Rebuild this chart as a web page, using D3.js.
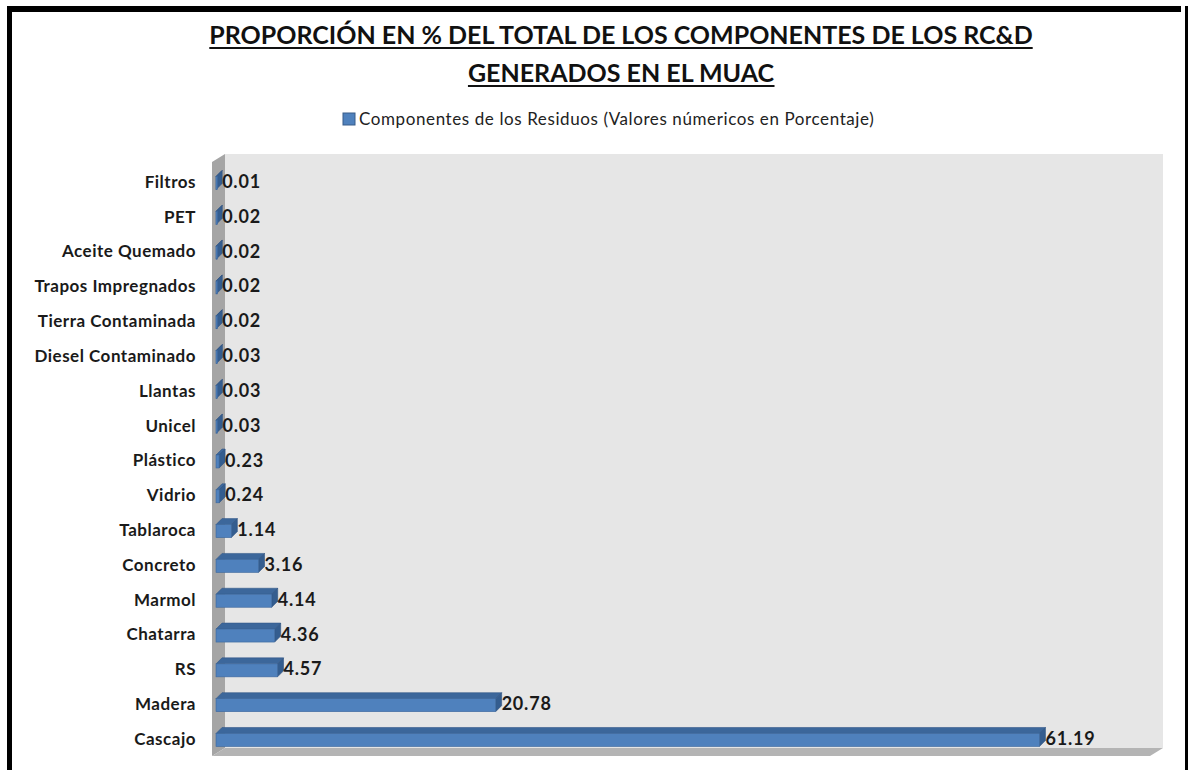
<!DOCTYPE html>
<html>
<head>
<meta charset="utf-8">
<script src="https://cdn.jsdelivr.net/npm/d3@7"></script>
<style>
  body { margin: 0; background: #fff; }
  svg { display: block; font-family: Lato, "Open Sans", sans-serif; }
</style>
</head>
<body>
<div id="chart"></div>
<script>
var svgWidth = 1188;
var svgHeight = 770;

var titleLines = ["PROPORCIÓN EN % DEL TOTAL DE LOS COMPONENTES DE LOS RC&D", "GENERADOS EN EL MUAC"];
var seriesName = "Componentes de los Residuos (Valores númericos en Porcentaje)";

var categories = ["Filtros", "PET", "Aceite Quemado", "Trapos Impregnados", "Tierra Contaminada",
  "Diesel Contaminado", "Llantas", "Unicel", "Plástico", "Vidrio", "Tablaroca", "Concreto",
  "Marmol", "Chatarra", "RS", "Madera", "Cascajo"];
var values = [0.01, 0.02, 0.02, 0.02, 0.02, 0.03, 0.03, 0.03, 0.23, 0.24, 1.14, 3.16, 4.14, 4.36, 4.57, 20.78, 61.19];
var labels = ["0.01", "0.02", "0.02", "0.02", "0.02", "0.03", "0.03", "0.03", "0.23", "0.24", "1.14", "3.16", "4.14", "4.36", "4.57", "20.78", "61.19"];

var data = categories.map(function(c, i) { return { name: c, value: values[i], label: labels[i] }; });

// 3d wall geometry
var wall = { left: 225, right: 1163, top: 154, bottom: 748 };
var wallDx = 13, wallDy = 8;
var barDepth = 6;
var barH = 13;

var svg = d3.select("#chart")
  .append("svg")
  .attr("width", svgWidth)
  .attr("height", svgHeight);

// frame
svg.append("rect").attr("x", 0).attr("y", 0).attr("width", svgWidth).attr("height", svgHeight).attr("fill", "#fff");
svg.append("rect").attr("x", 7).attr("y", 6).attr("width", 5).attr("height", svgHeight - 6).attr("fill", "#000");
svg.append("rect").attr("x", 7).attr("y", 6).attr("width", 1181 - 7).attr("height", 6).attr("fill", "#000");
svg.append("rect").attr("x", 1185).attr("y", 6).attr("width", 3).attr("height", svgHeight - 6).attr("fill", "#000");

// title
titleLines.forEach(function(t, i) {
  var by = 44 + i * 38;
  var tx = svg.append("text")
    .attr("x", 621)
    .attr("y", by)
    .attr("text-anchor", "middle")
    .attr("font-size", 25)
    .attr("font-weight", 700)
    .attr("fill", "#111")
    .text(t);
  var bb = tx.node().getBBox();
  svg.append("rect")
    .attr("x", bb.x).attr("y", by + 3)
    .attr("width", bb.width).attr("height", 2)
    .attr("fill", "#111");
});

// legend
svg.append("rect").attr("x", 343).attr("y", 113).attr("width", 12).attr("height", 12)
  .attr("fill", "#4f81bd").attr("stroke", "#385d8a").attr("stroke-width", 1);
svg.append("text").attr("x", 359).attr("y", 125)
  .attr("font-size", 17).attr("fill", "#222")
  .attr("letter-spacing", 0.6)
  .text(seriesName);

// walls
svg.append("rect")
  .attr("x", wall.left).attr("y", wall.top)
  .attr("width", wall.right - wall.left).attr("height", wall.bottom - wall.top)
  .attr("fill", "#e6e6e6");
svg.append("polygon")
  .attr("points", [[wall.left - wallDx, wall.top + wallDy], [wall.left, wall.top], [wall.left, wall.bottom], [wall.left - wallDx, wall.bottom + wallDy]].join(" "))
  .attr("fill", "#a5a5a5");
svg.append("polygon")
  .attr("points", [[wall.left - wallDx, wall.bottom + wallDy], [wall.left, wall.bottom], [wall.right, wall.bottom], [wall.right - wallDx, wall.bottom + wallDy]].join(" "))
  .attr("fill", "#b4b4b4");

var xScale = d3.scaleLinear()
  .domain([0, 70])
  .range([216, 216 + 942]);

var yScale = d3.scaleBand()
  .domain(categories)
  .range([163.6, 755.4]);

var chartGroup = svg.append("g");

var barG = chartGroup.selectAll("g.bar")
  .data(data)
  .enter()
  .append("g")
  .attr("class", "bar");

function yc(d) { return yScale(d.name) + yScale.bandwidth() / 2 + 2; }

// top face
barG.append("polygon")
  .attr("points", function(d) {
    var x0 = xScale(0), x1 = xScale(d.value), yt = yc(d) - barH / 2;
    return [[x0, yt], [x0 + barDepth, yt - barDepth], [x1 + barDepth, yt - barDepth], [x1, yt]].join(" ");
  })
  .attr("fill", "#3c679b")
  .attr("stroke", "#34598a").attr("stroke-width", 0.6);

// right end
barG.append("polygon")
  .attr("points", function(d) {
    var x1 = xScale(d.value), yt = yc(d) - barH / 2, yb = yc(d) + barH / 2;
    return [[x1, yt], [x1 + barDepth, yt - barDepth], [x1 + barDepth, yb - barDepth], [x1, yb]].join(" ");
  })
  .attr("fill", "#345d8f")
  .attr("stroke", "#2f5380").attr("stroke-width", 0.6);

// front face
barG.append("rect")
  .attr("x", xScale(0))
  .attr("y", function(d) { return yc(d) - barH / 2; })
  .attr("width", function(d) { return Math.max(1.5, xScale(d.value) - xScale(0)); })
  .attr("height", barH)
  .attr("fill", "#4f81bd")
  .attr("stroke", "#3d679c").attr("stroke-width", 0.6);

// value labels
chartGroup.selectAll("text.val")
  .data(data)
  .enter()
  .append("text")
  .attr("class", "val")
  .attr("x", function(d) { return xScale(d.value) + barDepth; })
  .attr("y", function(d) { return yc(d) + 5; })
  .attr("font-size", 18)
  .attr("font-weight", 700)
  .attr("letter-spacing", 0.8)
  .attr("fill", "#1a1a1a")
  .text(function(d) { return d.label; });

// category axis
var leftAxis = d3.axisLeft(yScale).tickSize(0).tickPadding(0);
var axisG = svg.append("g")
  .attr("transform", "translate(196, 0)")
  .call(leftAxis);
axisG.select(".domain").remove();
axisG.selectAll("text")
  .attr("font-family", "Lato, 'Open Sans', sans-serif")
  .attr("font-size", 17)
  .attr("font-weight", 700)
  .attr("letter-spacing", 0.5)
  .attr("fill", "#1a1a1a")
  .attr("dy", "0.4em");
</script>
</body>
</html>
